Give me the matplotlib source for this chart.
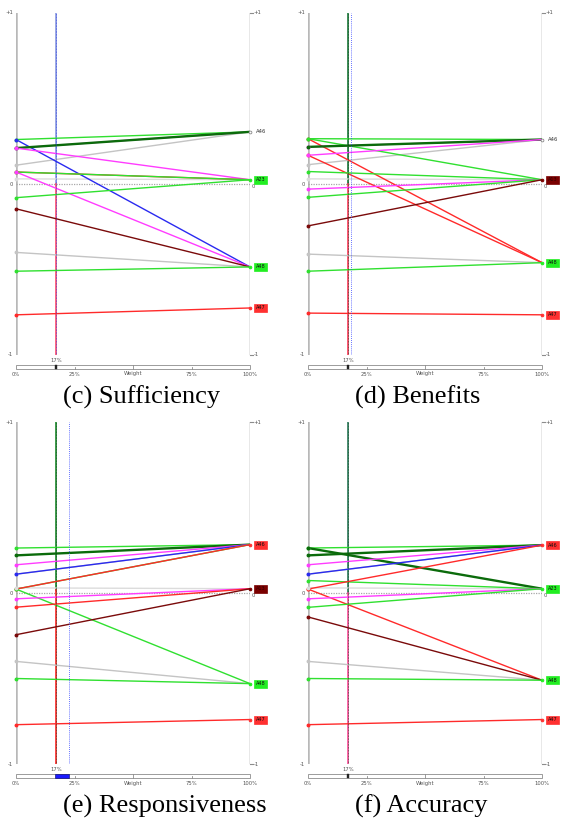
import matplotlib
matplotlib.use("Agg")
import matplotlib.pyplot as plt
from matplotlib.patches import Rectangle

W, H = 561, 821

# colours used for the alternative lines
PALETTE = {
    "lime": "#30e030",
    "dkgreen": "#0b6b0b",
    "magenta": "#ff3cff",
    "blue": "#2a2af0",
    "red": "#ff2a2a",
    "brown": "#7a0a0a",
    "grey": "#c4c4c4",
    "ltgrey": "#dcdcdc",
}
LABEL_FACE = {"A46": None, "A23": "#22ee22", "A48": "#22ee22", "A47": "#ff3030", "A13": "#7a0000"}

# (c) Sufficiency
c_left = [0.26, 0.26, 0.21, 0.21, 0.21, 0.11, 0.07, 0.07, 0.07, 0.03, -0.08, -0.145, -0.40, -0.51, -0.765]
c_to = ["A46", "A48", "A46", "A46", "A23", "A46", "A23", "A23", "A48", "A23", "A23", "A48", "A48", "A48", "A47"]
c_kind = ["lime", "blue", "magenta", "dkgreen", "magenta", "grey", "red", "lime", "magenta", "ltgrey",
          "lime", "brown", "grey", "lime", "red"]
c_ends = ["A46", "A23", "A48", "A47"]
c_end_vals = [0.305, 0.025, -0.485, -0.725]

# (d) Benefits
d_left = [0.265, 0.265, 0.265, 0.217, 0.217, 0.168, 0.168, 0.113, 0.073, 0.03, -0.03, -0.078, -0.245, -0.41, -0.51, -0.755]
d_to = ["A48", "A46", "A13", "A46", "A46", "A48", "A46", "A46", "A13", "A13", "A13", "A13", "A13", "A48", "A48", "A47"]
d_kind = ["red", "lime", "lime", "magenta", "dkgreen", "red", "magenta", "grey", "lime", "ltgrey",
          "magenta", "lime", "brown", "grey", "lime", "red"]
d_ends = ["A46", "A13", "A48", "A47"]
d_end_vals = [0.26, 0.025, -0.46, -0.765]

# (e) Responsiveness
e_left = [0.263, 0.22, 0.165, 0.11, 0.11, 0.023, 0.023, 0.023, 0.03, -0.034, -0.083, -0.244, -0.40, -0.50, -0.77]
e_to = ["A46", "A46", "A46", "A46", "A46", "A46", "A46", "A48", "A13", "A13", "A13", "A13", "A48", "A48", "A47"]
e_kind = ["lime", "dkgreen", "magenta", "grey", "blue", "lime", "red", "lime", "ltgrey", "magenta",
          "red", "brown", "grey", "lime", "red"]
e_ends = ["A46", "A13", "A48", "A47"]
e_end_vals = [0.283, 0.025, -0.53, -0.74]

# (f) Accuracy
f_left = [0.263, 0.263, 0.22, 0.165, 0.11, 0.11, 0.073, 0.023, 0.023, 0.03, -0.034, -0.084, -0.14, -0.40, -0.50, -0.77]
f_to = ["A46", "A23", "A46", "A46", "A46", "A46", "A23", "A46", "A48", "A23", "A23", "A23", "A48", "A48", "A48", "A47"]
f_kind = ["lime", "dkgreen", "dkgreen", "magenta", "grey", "blue", "lime", "red", "red", "ltgrey",
          "magenta", "lime", "brown", "grey", "lime", "red"]
f_ends = ["A46", "A23", "A48", "A47"]
f_end_vals = [0.28, 0.025, -0.51, -0.74]

end_face = {
    "c": LABEL_FACE,
    "d": LABEL_FACE,
    "e": dict(LABEL_FACE, A46="#ff3030"),
    "f": dict(LABEL_FACE, A46="#ff3030"),
}

fig = plt.figure(figsize=(W / 100, H / 100), dpi=100)
SMALL = dict(fontsize=3.8, color="#555555")


def ypx(p):
    # data y that lies p pixels below the -1 line
    return -1 - p * 2 / 342


def draw_panel(x0, y0, key, caption, left, to, kind, ends, end_vals,
               cur_w, top_col, bot_col, split, dot_col, blue_w, bar_fill):
    ax = fig.add_axes([x0 / W, 1 - (y0 + 342) / H, 234 / W, 342 / H])
    ax.set_xlim(0, 1)
    ax.set_ylim(-1, 1)
    ax.axis("off")

    ax.axvline(0, color="#b8b8b8", lw=1.8, zorder=1)
    ax.axvline(1, color="#8c8c8c", lw=1.0, zorder=1)
    ax.axhline(0, color="#a8a8a8", lw=0.9, ls=(0, (1, 1)), zorder=1)
    for yy in (1, -1):
        ax.plot([1, 1.012], [yy, yy], color="#8c8c8c", lw=0.8, clip_on=False)

    ax.text(-0.012, 1, "+1", ha="right", va="center", **SMALL)
    ax.text(-0.012, 0, "0", ha="right", va="center", **SMALL)
    ax.text(-0.012, -1, "-1", ha="right", va="center", **SMALL)
    ax.text(1.014, 1, "+1", ha="left", va="center", **SMALL)
    ax.text(1.006, -0.012, "0", ha="left", va="center", **SMALL)
    ax.text(1.014, -1, "-1", ha="left", va="center", **SMALL)

    # current-weight line
    ax.plot([cur_w, cur_w], [split, 1], color=top_col, lw=1.2, zorder=2)
    ax.plot([cur_w, cur_w], [-1, split], color=bot_col, lw=1.2, zorder=2)
    ax.plot([cur_w, cur_w], [-1, 1], color=dot_col, lw=0.5, ls=(0, (1, 1.2)), zorder=6)
    if blue_w is not None:
        ax.plot([blue_w, blue_w], [-1, 1], color="#3344ff", lw=0.6, ls=(0, (1, 1.5)), zorder=6)

    lookup = dict(zip(ends, end_vals))
    for l, t, k in zip(left, to, kind):
        lw = 1.7 if k == "dkgreen" else 1.0
        z = 3 if k in ("grey", "ltgrey") else 4
        ax.plot([0, 1], [l, lookup[t]], color=PALETTE[k], lw=lw, zorder=z, solid_capstyle="butt")
        ax.plot(0, l, "o", ms=1.8, color=PALETTE[k], mec=PALETTE[k], zorder=5, clip_on=False)

    faces = end_face[key]
    for name, v in zip(ends, end_vals):
        fc = faces[name]
        ax.plot(1, v, "o", ms=2.0, mfc=fc if fc else "white", mec=fc if fc else "#888888",
                mew=0.6, zorder=5, clip_on=False)
        if fc:
            tc = "#300000" if name == "A13" else "#111111"
            ax.text(1.025, v, name, fontsize=3.6, color=tc, ha="left", va="center",
                    bbox=dict(boxstyle="square,pad=0.3", fc=fc, ec=fc, lw=0.5))
        else:
            ax.text(1.025, v, name, fontsize=3.8, color="#333333", ha="left", va="center")

    # weight slider below the chart
    hb = 4 * 2 / 342
    ax.add_patch(Rectangle((0, ypx(14)), 1, hb, fc="white", ec="#8c8c8c", lw=0.6, clip_on=False))
    for xt, top in ((0.25, 12), (0.5, 10), (0.75, 12)):
        ax.plot([xt, xt], [ypx(14), ypx(top)], color="#8c8c8c", lw=0.6, clip_on=False)
    if bar_fill is not None:
        ax.add_patch(Rectangle((bar_fill[0], ypx(14)), bar_fill[1] - bar_fill[0], hb,
                               fc="#1a1aff", ec="#000066", lw=0.4, clip_on=False, zorder=5))
    else:
        ax.add_patch(Rectangle((cur_w - 0.004, ypx(14)), 0.008, hb, fc="#222222",
                               ec="#222222", lw=0.3, clip_on=False, zorder=5))
    for xt, lab in zip([0, 0.25, 0.5, 0.75, 1], ["0%", "25%", "Weight", "75%", "100%"]):
        ax.text(xt, ypx(19), lab, ha="center", va="center", **SMALL)
    ax.text(cur_w, ypx(5), "17%", ha="center", va="center", **SMALL)

    fig.text((x0 + 47) / W, 1 - (y0 + 391) / H, caption, fontsize=19,
             family="Liberation Serif", ha="left", va="baseline")


draw_panel(16, 13, "c", "(c) Sufficiency", c_left, c_to, c_kind, c_ends, c_end_vals,
           0.17, "#8a9ae0", "#ff4a6a", 0.0, "#2233dd", None, None)
draw_panel(308, 13, "d", "(d) Benefits", d_left, d_to, d_kind, d_ends, d_end_vals,
           0.171, "#1a7a3a", "#ff3a5a", 0.0, "#0a3a1a", 0.183, None)
draw_panel(16, 422, "e", "(e) Responsiveness", e_left, e_to, e_kind, e_ends, e_end_vals,
           0.17, "#1a8a2a", "#ff2222", 0.02, "#0a3a1a", 0.228, (0.165, 0.228))
draw_panel(308, 422, "f", "(f) Accuracy", f_left, f_to, f_kind, f_ends, f_end_vals,
           0.17, "#2a7a5a", "#ff4a9a", 0.0, "#0a3a1a", None, None)

fig.savefig("out.png", dpi=100)
